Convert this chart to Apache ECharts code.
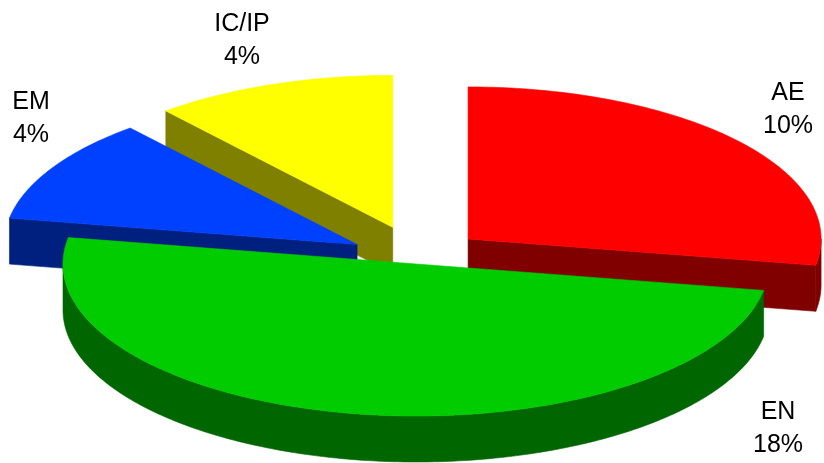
<!DOCTYPE html>
<html>
<head>
<meta charset="utf-8">
<title>3D 饼图</title>
<script src="https://cdn.jsdelivr.net/npm/echarts@6/dist/echarts.min.js"></script>
<style>
  html, body { margin: 0; padding: 0; background: #fff; }
  #chart { width: 824px; height: 463px; }
</style>
</head>
<body>
<div id="chart"></div>
<script>
// 数据
const categories = ['AE', 'EN', 'EM', 'IC/IP'];
const values = [10, 18, 4, 4];
const exploded = [true, false, true, true];

// 颜色（侧面取顶面颜色的一半亮度）
const topColors = ['#ff0000', '#00cc00', '#0040ff', '#ffff00'];

// 标签中心位置（像素）
const labelSpots = [[788, 110], [778, 429], [31, 119], [242, 41]];

// 饼的几何参数
const PIE = { cx: 416, cy: 264, rx: 353, ry: 152, depth: 46, ex: 68, ey: 39 };

/**
 * 颜色减半
 */
function darken(hex) {
  const n = parseInt(hex.slice(1), 16);
  const r = (n >> 16) & 255, g = (n >> 8) & 255, b = n & 255;
  const h = v => Math.round(v / 2).toString(16).padStart(2, '0');
  return '#' + h(r) + h(g) + h(b);
}

// 计算每块扇形的角度（从正上方顺时针）
const total = values.reduce((a, b) => a + b, 0);
const slices = [];
let acc = 0;
values.forEach(v => {
  const a0 = acc / total * 360;
  acc += v;
  const a1 = acc / total * 360;
  slices.push({ a0, a1, mid: (a0 + a1) / 2 });
});

// 绘制顺序：越靠后的扇形越先画
const order = slices
  .map((s, i) => ({ i, d: -Math.cos(s.mid * Math.PI / 180) }))
  .sort((a, b) => a.d - b.d)
  .map(o => o.i);

const rad = d => d * Math.PI / 180;

function renderSlice(params, api) {
  const i = params.dataIndex;
  const s = slices[i];
  const m = rad(s.mid);
  const vx = PIE.cx + (exploded[i] ? PIE.ex * Math.sin(m) : 0);
  const vy = PIE.cy - (exploded[i] ? PIE.ey * Math.cos(m) : 0);
  const rim = (a, dy) => [vx + PIE.rx * Math.sin(rad(a)), vy - PIE.ry * Math.cos(rad(a)) + (dy || 0)];
  const arc = (from, to, dy) => {
    const pts = [];
    const n = Math.max(2, Math.ceil(to - from));
    for (let k = 0; k <= n; k++) pts.push(rim(from + (to - from) * k / n, dy));
    return pts;
  };

  const top = topColors[i];
  const side = darken(top);
  const rank = order.indexOf(i);
  const d = PIE.depth;
  const children = [];
  const poly = (points, color, z) => ({
    type: 'polygon',
    shape: { points },
    style: { fill: color, stroke: color, lineWidth: 0.6 },
    z2: rank * 10 + z
  });

  // 外侧弧面（只画朝前的部分）
  const w0 = Math.max(s.a0, 90), w1 = Math.min(s.a1, 270);
  if (w1 > w0) {
    const upper = arc(w0, w1, 0);
    const lower = arc(w0, w1, d).reverse();
    children.push(poly(upper.concat(lower), side, 1));
  }
  // 起始边的侧面
  if (Math.sin(rad(s.a0)) < -0.01) {
    const p = rim(s.a0);
    children.push(poly([[vx, vy], p, [p[0], p[1] + d], [vx, vy + d]], side, 2));
  }
  // 结束边的侧面
  if (Math.sin(rad(s.a1)) > 0.01) {
    const p = rim(s.a1);
    children.push(poly([[vx, vy], p, [p[0], p[1] + d], [vx, vy + d]], side, 2));
  }
  // 顶面
  children.push(poly([[vx, vy]].concat(arc(s.a0, s.a1, 0)), top, 3));

  // 标签
  children.push({
    type: 'text',
    z2: 100,
    style: {
      text: categories[i] + '\n' + values[i] + '%',
      x: labelSpots[i][0],
      y: labelSpots[i][1],
      align: 'center',
      verticalAlign: 'middle',
      fill: '#000',
      fontSize: 25,
      fontFamily: '"Liberation Sans", Arial, sans-serif',
      lineHeight: 33
    }
  });

  return { type: 'group', children };
}

const chart = echarts.init(document.getElementById('chart'));
chart.setOption({
  animation: false,
  backgroundColor: '#fff',
  series: [{
    type: 'custom',
    coordinateSystem: 'none',
    silent: true,
    renderItem: renderSlice,
    data: values.map((v, i) => [i, v])
  }]
});

window.addEventListener('resize', () => chart.resize());
</script>
</body>
</html>
